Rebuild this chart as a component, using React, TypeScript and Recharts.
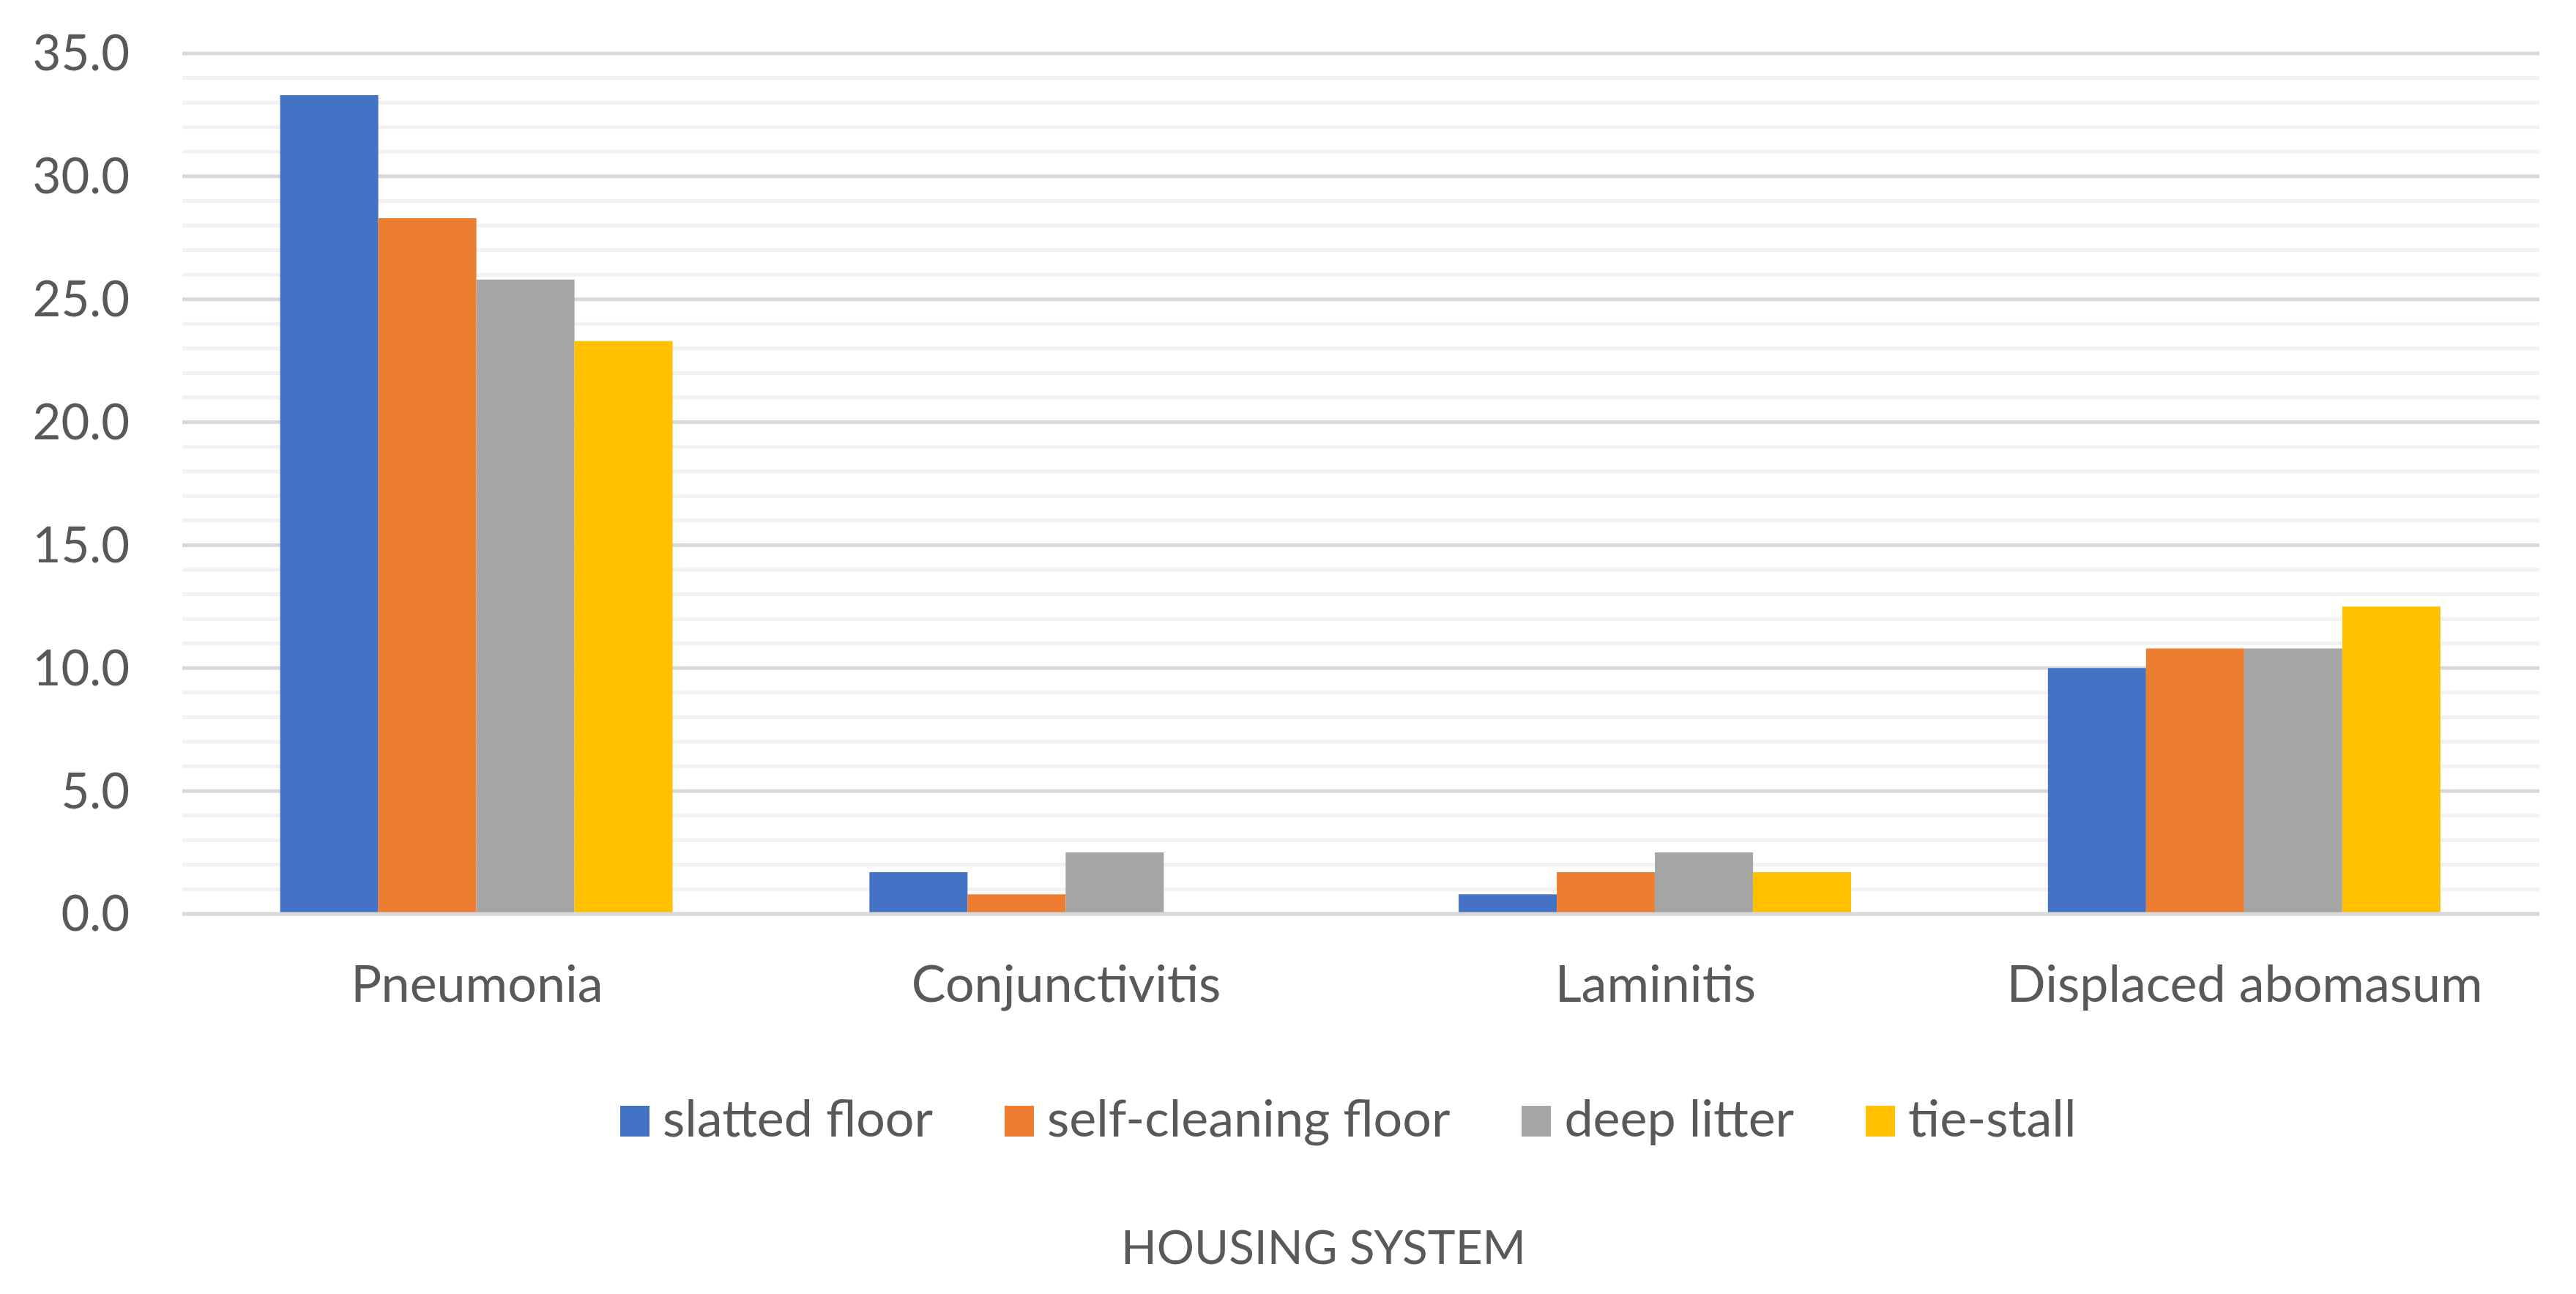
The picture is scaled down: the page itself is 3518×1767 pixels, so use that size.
import React from 'react';
import { BarChart, Bar, XAxis, YAxis, CartesianGrid, Legend, Label } from 'recharts';

const categories = ['Pneumonia', 'Conjunctivitis', 'Laminitis', 'Displaced abomasum'];
const slattedFloor = [33.3, 1.7, 0.8, 10.0];
const selfCleaningFloor = [28.3, 0.8, 1.7, 10.8];
const deepLitter = [25.8, 2.5, 2.5, 10.8];
const tieStall = [23.3, 0, 1.7, 12.5];
const seriesNames = ['slatted floor', 'self-cleaning floor', 'deep litter', 'tie-stall'];
const seriesColors = ['#4472C4', '#ED7D31', '#A5A5A5', '#FFC000'];
const yTicks = [0, 1, 2, 3, 4, 5, 6, 7, 8, 9, 10, 11, 12, 13, 14, 15, 16, 17, 18, 19, 20, 21, 22, 23, 24, 25, 26, 27, 28, 29, 30, 31, 32, 33, 34, 35];
const xTitle = 'HOUSING SYSTEM';

const data = categories.map((c, i) => ({
  name: c,
  s0: slattedFloor[i],
  s1: selfCleaningFloor[i],
  s2: deepLitter[i],
  s3: tieStall[i],
}));

const FONT = 'Lato, "Open Sans", sans-serif';
const TEXT = '#595959';

const gridLine = (p: any) => {
  const major = p.index % 5 === 0;
  return (
    <line
      key={`g-${p.index}`}
      x1={p.x1}
      y1={p.y1}
      x2={p.x2}
      y2={p.y2}
      stroke={major ? '#D9D9D9' : '#F2F2F2'}
      strokeWidth={5}
    />
  );
};

const YTick = (p: any) => {
  const v = p.payload.value;
  if (v % 5 !== 0) return null;
  return (
    <text x={p.x} y={p.y} dy="0.35em" textAnchor="end" fill={TEXT} fontFamily={FONT} fontSize={67}>
      {Number(v).toFixed(1)}
    </text>
  );
};

const renderLegend = (props: any) => {
  const items = [...(props.payload || [])].sort(
    (a: any, b: any) => seriesNames.indexOf(a.value) - seriesNames.indexOf(b.value)
  );
  return (
    <div style={{ display: 'flex', alignItems: 'baseline', fontFamily: FONT, fontSize: 70, lineHeight: 1, color: TEXT, whiteSpace: 'nowrap' }}>
      {items.map((e: any, i: number) => (
        <div key={i} style={{ display: 'flex', alignItems: 'baseline', marginRight: 98 }}>
          <span style={{ display: 'inline-block', width: 40, height: 42, background: e.color, marginRight: 18 }} />
          <span>{e.value}</span>
        </div>
      ))}
    </div>
  );
};

const TitleLabel = (p: any) => {
  const vb = p.viewBox;
  return (
    <text x={vb.x + vb.width / 2 - 51} y={vb.y + 478} textAnchor="middle" fill={TEXT} fontFamily={FONT} fontSize={64}>
      {xTitle}
    </text>
  );
};

export default function App() {
  return (
    <div style={{ position: 'absolute', left: 0, top: 0, background: '#fff' }}>
      <BarChart
        width={3518}
        height={1767}
        data={data}
        margin={{ top: 73, right: 50, left: 0, bottom: 0 }}
        barCategoryGap="16.6%"
        barGap={0}
      >
        <CartesianGrid vertical={false} horizontal={gridLine} />
        <XAxis
          dataKey="name"
          height={449}
          tickLine={false}
          tickSize={0}
          tickMargin={70}
          axisLine={{ stroke: '#D9D9D9', strokeWidth: 5 }}
          tick={{ fill: TEXT, fontFamily: FONT, fontSize: 70 }}
          interval={0}
        >
          <Label content={TitleLabel} />
        </XAxis>
        <YAxis
          width={249}
          domain={[0, 35]}
          ticks={yTicks}
          interval={0}
          axisLine={false}
          tickLine={false}
          tickSize={0}
          tickMargin={72}
          tick={<YTick />}
        />
        <Legend
          content={renderLegend}
          itemSorter={null as any}
          wrapperStyle={{ left: 847, top: 1490, bottom: 'auto', width: 'auto' }}
        />
        <Bar dataKey="s0" name={seriesNames[0]} fill={seriesColors[0]} isAnimationActive={false} />
        <Bar dataKey="s1" name={seriesNames[1]} fill={seriesColors[1]} isAnimationActive={false} />
        <Bar dataKey="s2" name={seriesNames[2]} fill={seriesColors[2]} isAnimationActive={false} />
        <Bar dataKey="s3" name={seriesNames[3]} fill={seriesColors[3]} isAnimationActive={false} />
      </BarChart>
    </div>
  );
}
